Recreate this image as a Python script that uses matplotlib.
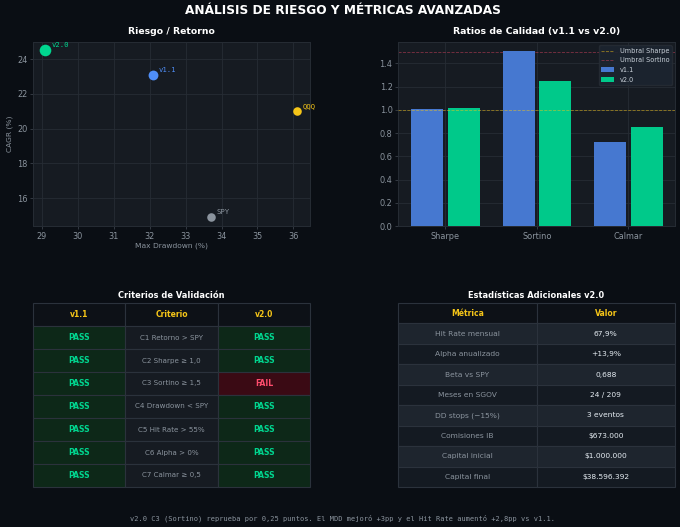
import matplotlib
matplotlib.use("Agg")
import matplotlib.pyplot as plt
import numpy as np

BG = "#0a0e14"
PANEL = "#161b22"
GRID = "#262c34"
TABLE_EDGE = "#2b323c"
TICK = "#8b949e"
BLUE = "#4f8ef7"
BAR_BLUE = "#4678d0"
GREEN = "#00d68f"
BAR_GREEN = "#00c98a"
GOLD = "#f5c518"
GRAY = "#8b949e"
RED = "#ff4d6d"

# datos
names = ["v2.0", "v1.1", "QQQ", "SPY"]
max_dd = [29.1, 32.1, 36.1, 33.7]
cagr = [24.5, 23.1, 21.0, 14.9]
point_sizes = [70, 50, 38, 38]
point_colors = [GREEN, BLUE, GOLD, GRAY]

ratios = ["Sharpe", "Sortino", "Calmar"]
v11_ratios = [1.01, 1.51, 0.72]
v20_ratios = [1.02, 1.25, 0.85]
umbral_sharpe = 1.0
umbral_sortino = 1.5

criterios = ["C1 Retorno > SPY", "C2 Sharpe ≥ 1,0", "C3 Sortino ≥ 1,5", "C4 Drawdown < SPY",
             "C5 Hit Rate > 55%", "C6 Alpha > 0%", "C7 Calmar ≥ 0,5"]
v11_res = ["PASS"] * 7
v20_res = ["PASS", "PASS", "FAIL", "PASS", "PASS", "PASS", "PASS"]

metricas = ["Hit Rate mensual", "Alpha anualizado", "Beta vs SPY", "Meses en SGOV",
            "DD stops (−15%)", "Comisiones IB", "Capital inicial", "Capital final"]
valores = ["67,9%", "+13,9%", "0,688", "24 / 209", "3 eventos",
           "$673.000", "$1.000.000", "$38.596.392"]

W, H = 680, 527


def panel(x0, y0, x1, y1):
    return fig.add_axes([x0 / W, 1 - y1 / H, (x1 - x0) / W, (y1 - y0) / H])


def style_axes(ax):
    ax.set_facecolor(PANEL)
    ax.grid(True, color=GRID, linewidth=0.6)
    ax.set_axisbelow(True)
    ax.tick_params(colors=TICK, labelsize=5.9, length=2, width=0.5, color="#444b55", pad=2)
    for s in ax.spines.values():
        s.set_color(GRID)
        s.set_linewidth(0.7)


fig = plt.figure(figsize=(W / 100, H / 100), dpi=100, facecolor=BG)
fig.text(343 / W, 1 - 10 / H, "ANÁLISIS DE RIESGO Y MÉTRICAS AVANZADAS", color="white",
         fontsize=8.7, fontweight="bold", ha="center", va="center")

# ===== scatter =====
ax1 = panel(33, 42, 310, 226)
style_axes(ax1)
for n, x, y, s, c in zip(names, max_dd, cagr, point_sizes, point_colors):
    ax1.scatter(x, y, s=s, color=c, zorder=3, linewidths=0)
    ax1.annotate(n, (x, y), xytext=(4.3, 2.3), textcoords="offset points", color=c,
                 fontsize=5.2, family="monospace")
ax1.set_xlim(28.76, 36.46)
ax1.set_ylim(14.4, 24.98)
ax1.set_xticks(np.arange(29, 37))
ax1.set_yticks([16, 18, 20, 22, 24])
ax1.set_xlabel("Max Drawdown (%)", color=TICK, fontsize=5.4, labelpad=1.5)
ax1.set_ylabel("CAGR (%)", color=TICK, fontsize=5.4, labelpad=2.5)
ax1.set_title("Riesgo / Retorno", color="white", fontsize=6.7, fontweight="bold", pad=5.5)

# ===== barras =====
ax2 = panel(398, 42, 675, 226)
style_axes(ax2)
pos = np.arange(len(ratios))
ax2.bar(pos - 0.2, v11_ratios, 0.35, color=BAR_BLUE, label="v1.1", zorder=2)
ax2.bar(pos + 0.2, v20_ratios, 0.35, color=BAR_GREEN, label="v2.0", zorder=2)
ax2.axhline(umbral_sharpe, color=GOLD, linestyle="--", linewidth=0.6, alpha=0.55,
            label="Umbral Sharpe", zorder=3)
ax2.axhline(umbral_sortino, color=RED, linestyle="--", linewidth=0.6, alpha=0.45,
            label="Umbral Sortino", zorder=1)
ax2.set_xlim(-0.517, 2.51)
ax2.set_ylim(0, 1.584)
ax2.set_xticks(pos)
ax2.set_xticklabels(ratios)
ax2.set_yticks(np.arange(0, 1.5, 0.2))
ax2.set_title("Ratios de Calidad (v1.1 vs v2.0)", color="white", fontsize=6.75, fontweight="bold", pad=5.5)
h, l = ax2.get_legend_handles_labels()
order = [l.index(k) for k in ["Umbral Sharpe", "Umbral Sortino", "v1.1", "v2.0"]]
leg = ax2.legend([h[i] for i in order], [l[i] for i in order], fontsize=4.7, loc="upper right",
                 facecolor="#1c2530", edgecolor=GRID, labelcolor="#c9d1d9", framealpha=0.9,
                 borderaxespad=0.5, labelspacing=0.55)


# ===== tablas =====
def draw_table(ax, rows, col_widths, title, cell_style):
    ax.axis("off")
    t = ax.table(cellText=rows, bbox=[0, 0, 1, 1], cellLoc="center", colWidths=col_widths)
    t.auto_set_font_size(False)
    for (r, c), cell in t.get_celld().items():
        cell.set_edgecolor(TABLE_EDGE)
        cell.set_linewidth(0.8)
        if r == 0:
            cell.set_facecolor("#0d1117")
            cell.get_text().set(color=GOLD, fontsize=5.5, fontweight="bold")
        else:
            cell_style(r, c, cell)
    ax.set_title(title, color="white", fontsize=5.95, fontweight="bold", pad=3.5)


def style_validacion(r, c, cell):
    txt = cell.get_text()
    if c == 1:
        cell.set_facecolor(PANEL)
        txt.set(color=TICK, fontsize=5.1)
    else:
        fail = txt.get_text() == "FAIL"
        cell.set_facecolor("#3a0a14" if fail else "#0d2818")
        txt.set(color=RED if fail else GREEN, fontsize=5.6, fontweight="bold")


def style_stats(r, c, cell):
    cell.set_facecolor("#1e252e" if r % 2 else "#141a22")
    cell.get_text().set(color=TICK if c == 0 else "#e6edf3", fontsize=5.4)


ax3 = panel(33, 303, 310, 487)
rows3 = [["v1.1", "Criterio", "v2.0"]] + [list(x) for x in zip(v11_res, criterios, v20_res)]
draw_table(ax3, rows3, [1 / 3] * 3, "Criterios de Validación", style_validacion)

ax4 = panel(398, 303, 675, 487)
rows4 = [["Métrica", "Valor"]] + [list(x) for x in zip(metricas, valores)]
draw_table(ax4, rows4, [0.5, 0.5], "Estadísticas Adicionales v2.0", style_stats)

fig.text(343 / W, 1 - 518 / H,
         "v2.0 C3 (Sortino) reprueba por 0,25 puntos. El MDD mejoró +3pp y el Hit Rate aumentó +2,8pp vs v1.1.",
         color=TICK, fontsize=5.04, family="monospace", ha="center", va="center")

fig.savefig("out.png", dpi=100, facecolor=BG)
